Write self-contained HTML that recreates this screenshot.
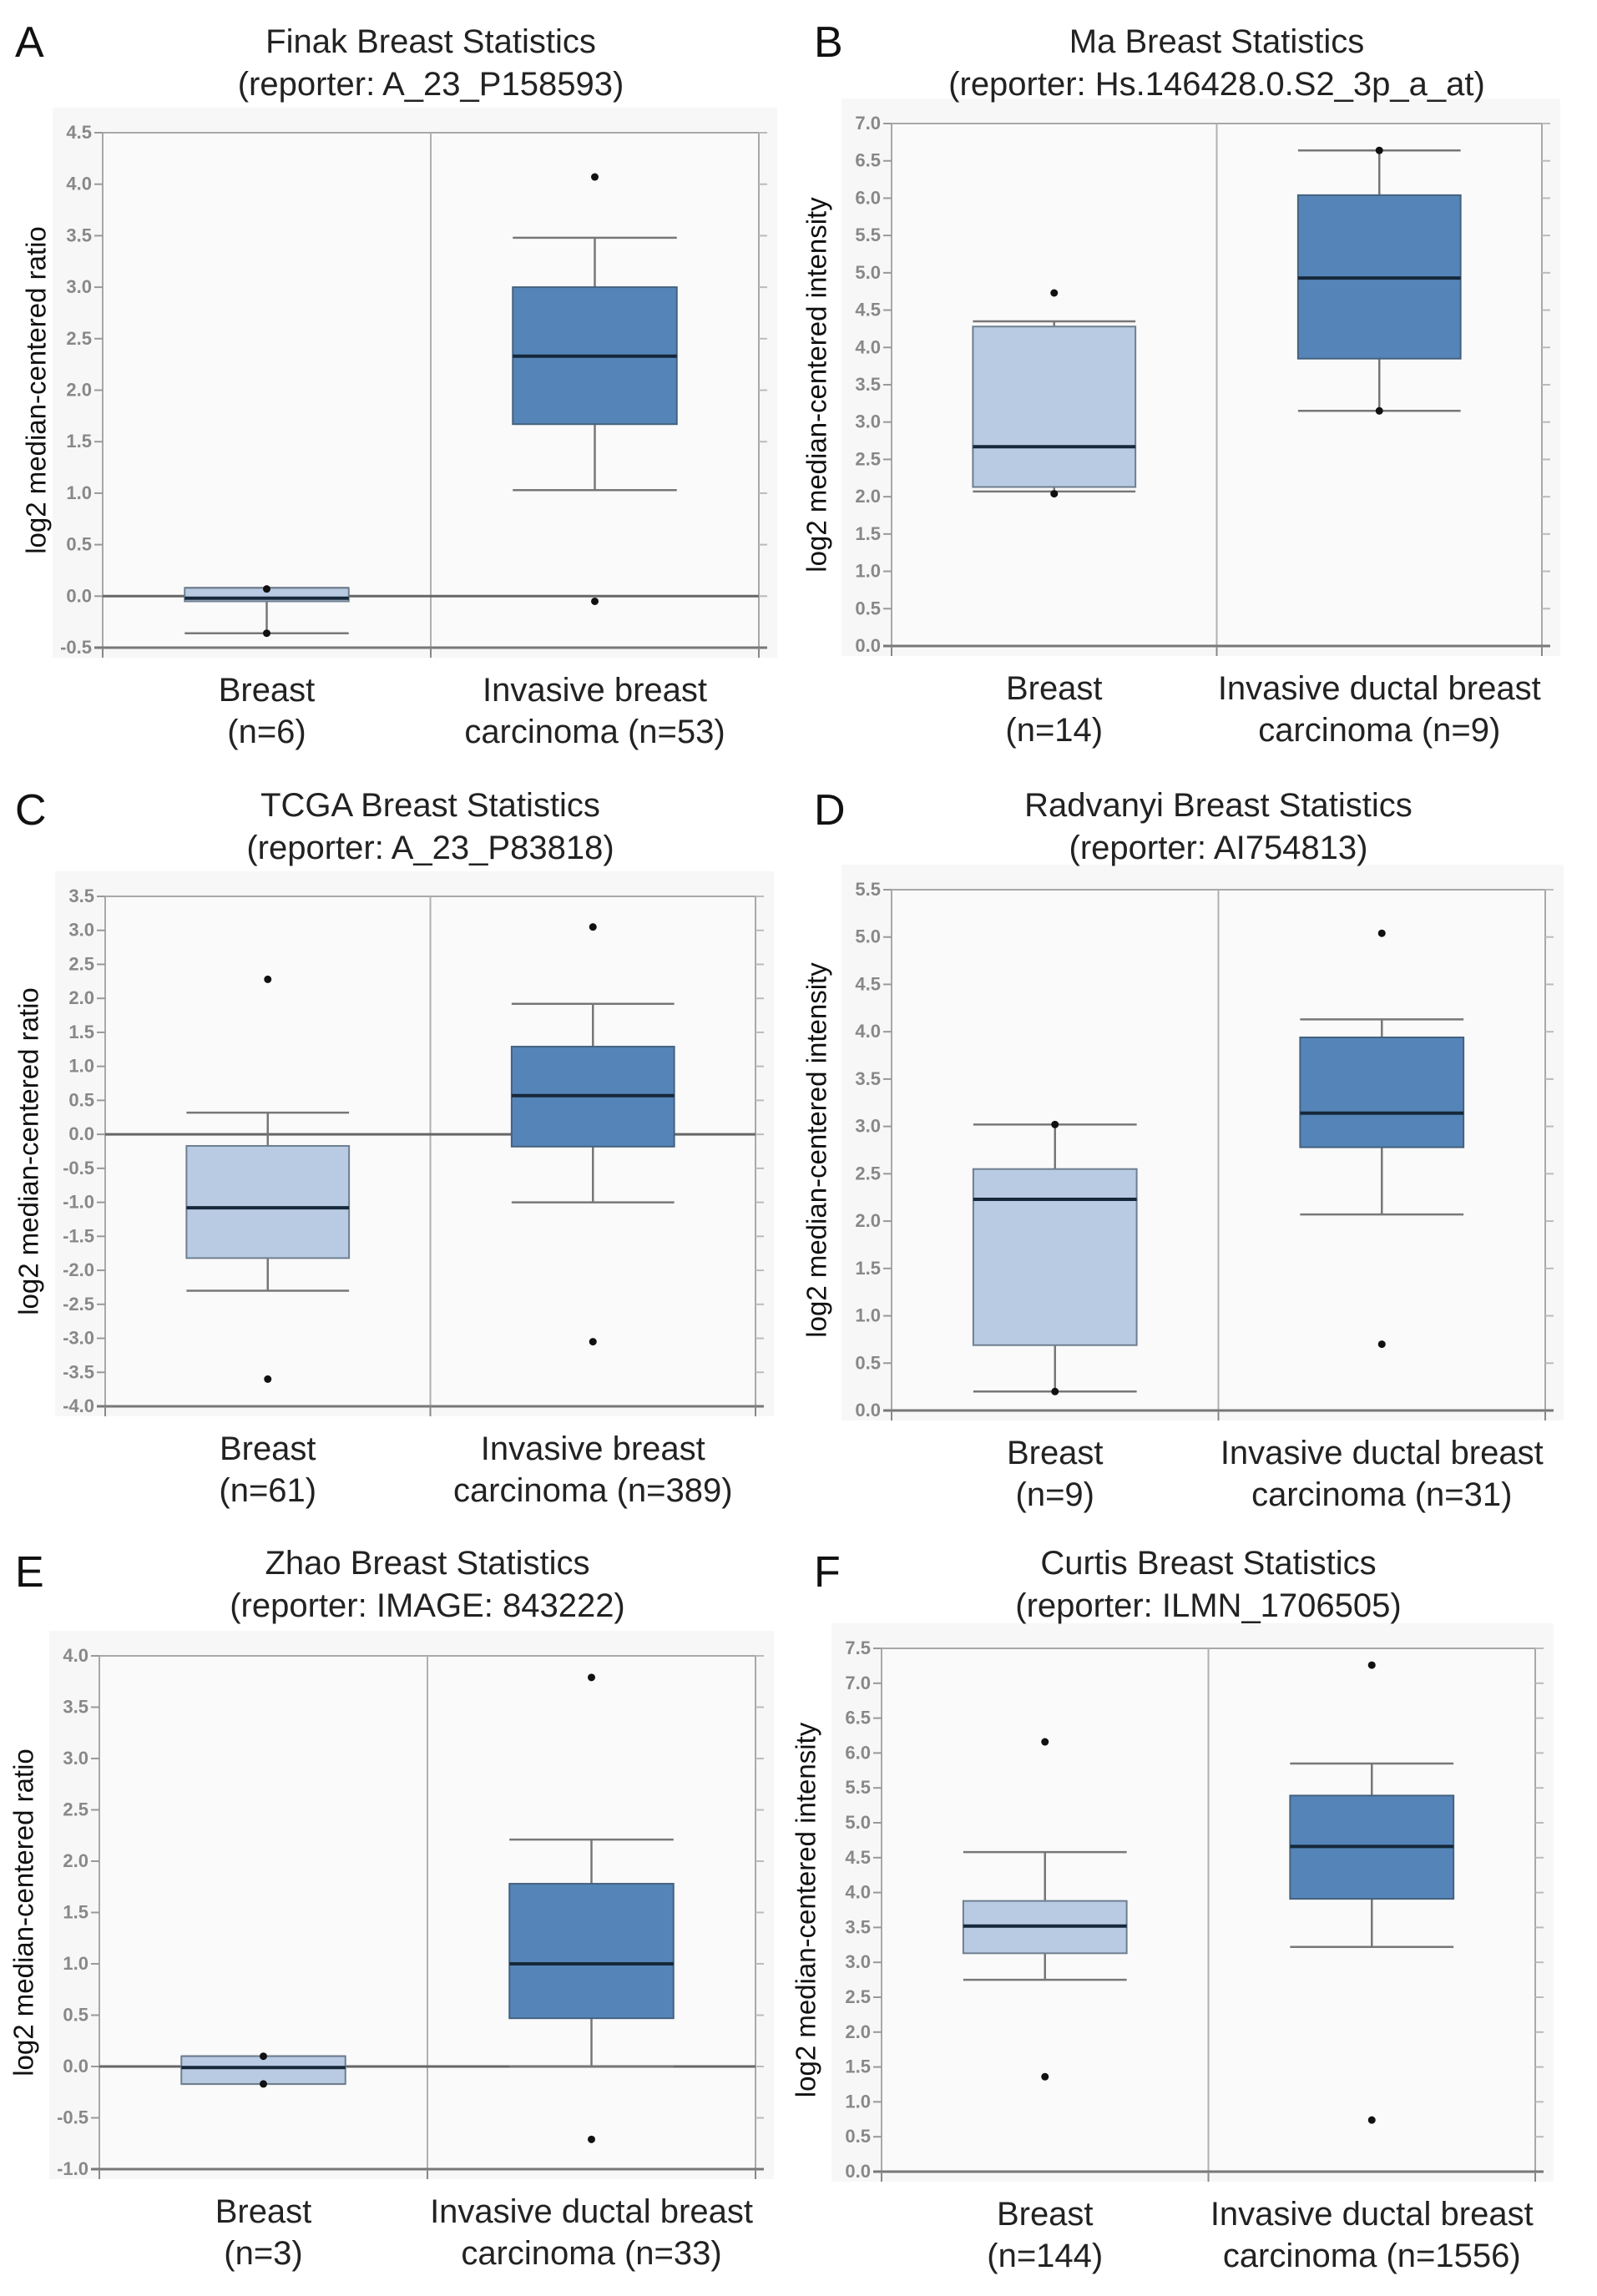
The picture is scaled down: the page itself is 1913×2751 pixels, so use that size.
<!DOCTYPE html>
<html><head><meta charset="utf-8"><style>
html,body{margin:0;padding:0;background:#fff;}
svg{display:block;}
</style></head><body>
<svg id="fig" xmlns="http://www.w3.org/2000/svg" width="1913" height="2751" viewBox="0 0 1913 2751"></svg>
<script>
// ---- data (per panel: [Breast, Invasive]) ----
const panelLetters = ["A","B","C","D","E","F"];
const titles = ["Finak Breast Statistics","Ma Breast Statistics","TCGA Breast Statistics","Radvanyi Breast Statistics","Zhao Breast Statistics","Curtis Breast Statistics"];
const reporters = ["(reporter: A_23_P158593)","(reporter: Hs.146428.0.S2_3p_a_at)","(reporter: A_23_P83818)","(reporter: AI754813)","(reporter: IMAGE: 843222)","(reporter: ILMN_1706505)"];
const yTitles = ["log2 median-centered ratio","log2 median-centered intensity","log2 median-centered ratio","log2 median-centered intensity","log2 median-centered ratio","log2 median-centered intensity"];
const catLine1 = [["Breast","Invasive breast"],["Breast","Invasive ductal breast"],["Breast","Invasive breast"],["Breast","Invasive ductal breast"],["Breast","Invasive ductal breast"],["Breast","Invasive ductal breast"]];
const catLine2 = [["(n=6)","carcinoma (n=53)"],["(n=14)","carcinoma (n=9)"],["(n=61)","carcinoma (n=389)"],["(n=9)","carcinoma (n=31)"],["(n=3)","carcinoma (n=33)"],["(n=144)","carcinoma (n=1556)"]];
const yMin = [-0.5, 0, -4, 0, -1, 0];
const yMax = [4.5, 7, 3.5, 5.5, 4, 7.5];
const whiskerLow  = [[-0.36,1.03],[2.07,3.15],[-2.3,-1.0],[0.2,2.07],[-0.17,0.0],[2.75,3.22]];
const q1          = [[-0.05,1.67],[2.13,3.85],[-1.82,-0.18],[0.69,2.78],[-0.17,0.47],[3.13,3.91]];
const median      = [[-0.02,2.33],[2.67,4.93],[-1.08,0.57],[2.23,3.14],[-0.01,1.0],[3.52,4.66]];
const q3          = [[0.08,3.0],[4.28,6.04],[-0.17,1.29],[2.55,3.94],[0.1,1.78],[3.88,5.39]];
const whiskerHigh = [[0.08,3.48],[4.35,6.64],[0.32,1.92],[3.02,4.13],[0.1,2.21],[4.58,5.85]];
const outliers    = [[[0.07,-0.36],[4.07,-0.05]],[[4.73,2.04],[6.64,3.15]],[[2.28,-3.6],[3.05,-3.05]],[[3.02,0.2],[5.04,0.7]],[[0.1,-0.17],[3.79,-0.71]],[[6.16,1.36],[7.26,0.74]]];

// ---- layout ----
const layout = [
 {L:123,R:909,T:159,B:776,letterX:18,letterY:68,titleY:49,yt:46},
 {L:1068,R:1847,T:148,B:774,letterX:975,letterY:68,titleY:49,yt:981},
 {L:126,R:905,T:1074,B:1685,letterX:18,letterY:988,titleY:964,yt:37},
 {L:1068,R:1851,T:1066,B:1690,letterX:975,letterY:988,titleY:964,yt:981},
 {L:119,R:905,T:1984,B:2599,letterX:18,letterY:1901,titleY:1872,yt:31},
 {L:1056,R:1839,T:1975,B:2602,letterX:975,letterY:1901,titleY:1872,yt:968}
];
const NS="http://www.w3.org/2000/svg";
const svg=document.getElementById('fig');
function mk(tag,attrs,parent,text){const e=document.createElementNS(NS,tag);for(const k in attrs)e.setAttribute(k,attrs[k]);if(text!==undefined)e.textContent=text;(parent||svg).appendChild(e);return e;}
const FONT='"Liberation Sans", sans-serif';

for(let p=0;p<6;p++){
  const g=mk('g',{});
  
  
  const c=layout[p];
  const y=v=>c.B-(v-yMin[p])/(yMax[p]-yMin[p])*(c.B-c.T);
  const mid=(c.L+c.R)/2;
  const xc=[c.L+(mid-c.L)/2, mid+(c.R-mid)/2];
  const bw=(c.R-c.L)*0.25;
  const bg=mk('rect',{x:c.L-60,y:c.T-30,width:c.R-c.L+82,height:c.B-c.T+42,fill:'#f7f7f7'},g);
  
  
  const lt=mk('text',{x:c.letterX,y:c.letterY,'font-family':FONT,'font-size':52,fill:'#111'},g,panelLetters[p]);
  
  
  const t1=mk('text',{x:mid,y:c.titleY+14,'text-anchor':'middle','font-family':FONT,'font-size':40,fill:'#222'},g,titles[p]);
  
  
  const t2=mk('text',{x:mid,y:c.titleY+65,'text-anchor':'middle','font-family':FONT,'font-size':40,fill:'#222'},g,reporters[p]);
  
  
  mk('rect',{x:c.L,y:c.T,width:c.R-c.L,height:c.B-c.T,fill:'#fafafa',stroke:'#a8a8a8','stroke-width':2},g);
  mk('line',{x1:mid,x2:mid,y1:c.T,y2:c.B+12,stroke:'#b0b0b0','stroke-width':2},g);
  const n=Math.round((yMax[p]-yMin[p])/0.5);
  for(let i=0;i<=n;i++){
    const v=yMin[p]+i*0.5, yy=y(v);
    mk('line',{x1:c.L-10,x2:c.L,y1:yy,y2:yy,stroke:'#999','stroke-width':2},g);
    mk('line',{x1:c.R,x2:c.R+10,y1:yy,y2:yy,stroke:'#bbb','stroke-width':2},g);
    const tl=mk('text',{x:c.L-13,y:yy+7,'text-anchor':'end','font-family':'"Liberation Sans Narrow","Liberation Sans",sans-serif','font-size':22,'font-weight':'bold',fill:'#888'},g,v.toFixed(1));
    
    
  }
  mk('line',{x1:c.L-10,x2:c.R+10,y1:c.B,y2:c.B,stroke:'#777','stroke-width':3},g);
  [c.L,mid,c.R].forEach(xx=>mk('line',{x1:xx,x2:xx,y1:c.B,y2:c.B+12,stroke:'#888','stroke-width':2},g));
  if(yMin[p]<0){const zl=mk('line',{x1:c.L,x2:c.R,y1:y(0),y2:y(0),stroke:'#666','stroke-width':3},g);
    
    }
  const yt=mk('text',{x:c.yt,y:(c.T+c.B)/2,'text-anchor':'middle','font-family':FONT,'font-size':33,fill:'#111',transform:`rotate(-90 ${c.yt} ${(c.T+c.B)/2})`,'dominant-baseline':'middle'},g,yTitles[p]);
  
  
  for(let k=0;k<2;k++){
    const x=xc[k];
    const bx=mk('g',{},g);
    
    
    mk('line',{x1:x,x2:x,y1:y(whiskerLow[p][k]),y2:y(whiskerHigh[p][k]),stroke:'#777','stroke-width':2.5},bx);
    mk('line',{x1:x-bw/2,x2:x+bw/2,y1:y(whiskerLow[p][k]),y2:y(whiskerLow[p][k]),stroke:'#777','stroke-width':2.5},bx);
    mk('line',{x1:x-bw/2,x2:x+bw/2,y1:y(whiskerHigh[p][k]),y2:y(whiskerHigh[p][k]),stroke:'#777','stroke-width':2.5},bx);
    mk('rect',{x:x-bw/2,y:y(q3[p][k]),width:bw,height:y(q1[p][k])-y(q3[p][k]),fill:k===0?'#b8cbe2':'#5585b8',stroke:k===0?'#6f7f90':'#44617f','stroke-width':2},bx);
    mk('line',{x1:x-bw/2,x2:x+bw/2,y1:y(median[p][k]),y2:y(median[p][k]),stroke:'#16283a','stroke-width':4},bx);
    outliers[p][k].forEach(v=>{const d=mk('circle',{cx:x,cy:y(v),r:4.5,fill:'#111'},bx);
      
      });
    const l1=mk('text',{x:x,y:c.B+64,'text-anchor':'middle','font-family':FONT,'font-size':40,fill:'#222'},g,catLine1[p][k]);
    
    
    const l2=mk('text',{x:x,y:c.B+114,'text-anchor':'middle','font-family':FONT,'font-size':40,fill:'#222'},g,catLine2[p][k]);
    
    
  }
}
</script>
</body></html>
